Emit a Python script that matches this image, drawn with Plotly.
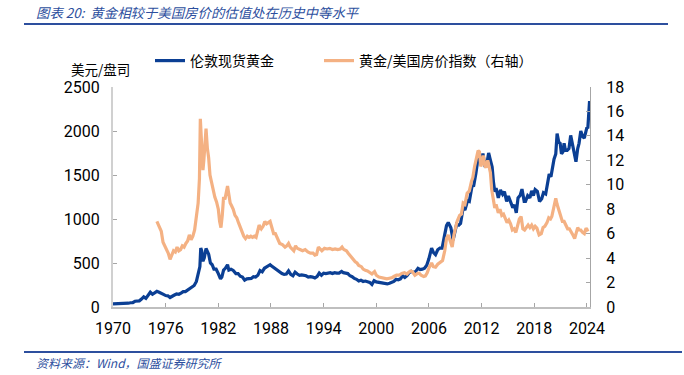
import plotly.graph_objects as go

# ---------------- data ----------------
gold_years = [
    1970.0, 1970.25, 1970.5, 1970.75, 1971.0, 1971.25, 1971.5, 1971.75,
    1972.0, 1972.25, 1972.5, 1972.75, 1973.0, 1973.25, 1973.5, 1973.75,
    1974.0, 1974.25, 1974.5, 1974.75, 1975.0, 1975.25, 1975.5, 1975.75,
    1976.0, 1976.25, 1976.5, 1976.75, 1977.0, 1977.25, 1977.5, 1977.75,
    1978.0, 1978.25, 1978.5, 1978.75, 1979.0, 1979.25, 1979.5, 1979.75, 1979.9,
    1980.0, 1980.1, 1980.25, 1980.4, 1980.6, 1980.75, 1980.9,
    1981.1, 1981.3, 1981.5, 1981.75, 1982.0, 1982.25, 1982.4, 1982.6, 1982.8,
    1983.05, 1983.2, 1983.45, 1983.7, 1984.0, 1984.25, 1984.5, 1984.75,
    1985.0, 1985.25, 1985.5, 1985.75, 1986.0, 1986.25, 1986.5, 1986.75,
    1987.0, 1987.25, 1987.5, 1987.9, 1988.0, 1988.25, 1988.5, 1988.75,
    1989.0, 1989.25, 1989.5, 1989.75, 1990.0, 1990.25, 1990.5, 1990.75,
    1991.0, 1991.25, 1991.5, 1991.75, 1992.0, 1992.25, 1992.5, 1992.75,
    1993.0, 1993.25, 1993.5, 1993.75, 1994.0, 1994.25, 1994.5, 1994.75,
    1995.0, 1995.25, 1995.5, 1995.75, 1996.05, 1996.25, 1996.5, 1996.75,
    1997.0, 1997.25, 1997.5, 1997.75, 1998.0, 1998.25, 1998.5, 1998.75,
    1999.0, 1999.25, 1999.5, 1999.75, 2000.0, 2000.25, 2000.5, 2000.75,
    2001.0, 2001.25, 2001.5, 2001.75, 2002.0, 2002.25, 2002.5, 2002.75,
    2003.0, 2003.25, 2003.5, 2003.75, 2004.0, 2004.25, 2004.5, 2004.75,
    2005.0, 2005.25, 2005.5, 2005.75, 2006.0, 2006.3, 2006.5, 2006.75,
    2007.0, 2007.25, 2007.5, 2007.75, 2008.0, 2008.2, 2008.5, 2008.75,
    2009.0, 2009.15, 2009.4, 2009.6, 2009.9, 2010.1, 2010.4, 2010.6, 2010.9,
    2011.1, 2011.35, 2011.55, 2011.7, 2011.85, 2012.0, 2012.15, 2012.4,
    2012.6, 2012.8, 2013.0, 2013.2, 2013.35, 2013.5, 2013.65, 2013.9,
    2014.15, 2014.4, 2014.6, 2014.85, 2015.05, 2015.3, 2015.55, 2015.75, 2015.95,
    2016.15, 2016.4, 2016.6, 2016.85, 2017.0, 2017.25, 2017.5, 2017.7, 2017.9,
    2018.1, 2018.35, 2018.6, 2018.85, 2019.05, 2019.3, 2019.5, 2019.7, 2019.9,
    2020.05, 2020.25, 2020.45, 2020.6, 2020.8, 2020.95, 2021.1, 2021.25,
    2021.4, 2021.55, 2021.75, 2021.95, 2022.15, 2022.35, 2022.55, 2022.75,
    2022.95, 2023.1, 2023.3, 2023.5, 2023.7, 2023.85, 2024.0, 2024.1, 2024.2, 2024.3,
]
gold_usd_oz = [
    35, 35, 35, 37, 38, 40, 42, 43,
    48, 50, 65, 64, 70, 90, 115, 98,
    140, 168, 145, 165, 178, 168, 160, 143,
    130, 127, 108, 125, 136, 148, 145, 158,
    175, 175, 195, 215, 235, 245, 290, 390, 460,
    670, 640, 520, 560, 665, 640, 600,
    500, 480, 430, 430, 380, 320, 340, 420, 440,
    480, 420, 430, 415, 380, 380, 350, 340,
    305, 320, 320, 325, 345, 340, 360, 415,
    400, 440, 455, 480, 470, 450, 440, 410,
    400, 380, 370, 375, 410, 370, 355, 395,
    375, 360, 365, 360, 355, 340, 345, 340,
    330, 345, 385, 360, 385, 380, 385, 390,
    380, 390, 385, 385, 405, 390, 385, 380,
    355, 345, 325, 315, 295, 305, 290, 295,
    288, 280, 257, 300, 285, 280, 280, 270,
    265, 262, 270, 280, 290, 315, 310, 320,
    355, 335, 355, 390, 405, 390, 405, 440,
    425, 430, 440, 475, 550, 670, 620, 595,
    650, 670, 670, 800, 925, 960, 900, 760,
    900, 940, 930, 950, 1130, 1100, 1210, 1200, 1370,
    1380, 1520, 1700, 1770, 1700, 1660, 1745, 1590,
    1630, 1750, 1670, 1590, 1420, 1310, 1350, 1240,
    1330, 1280, 1310, 1200, 1260, 1200, 1130, 1160, 1070,
    1240, 1270, 1340, 1200, 1200, 1265, 1240, 1320, 1265,
    1335, 1315, 1200, 1230, 1300, 1285, 1410, 1510, 1480,
    1580, 1680, 1740, 1970, 1870, 1860, 1740, 1760,
    1860, 1780, 1780, 1800, 1950, 1840, 1730, 1650,
    1800, 1860, 2000, 1940, 1920, 1990, 2040, 2030, 2160, 2340,
]

ratio_years = [
    1975.0, 1975.15, 1975.3, 1975.5, 1975.7, 1975.9, 1976.1, 1976.3, 1976.5, 1976.7, 1976.9,
    1977.1, 1977.3, 1977.5, 1977.7, 1977.9, 1978.1, 1978.3, 1978.5, 1978.7, 1978.9,
    1979.1, 1979.3, 1979.5, 1979.7, 1979.85, 1979.95, 1980.05, 1980.15, 1980.25, 1980.35,
    1980.45, 1980.6, 1980.75, 1980.9, 1981.05, 1981.2, 1981.4, 1981.6, 1981.8,
    1982.0, 1982.15, 1982.3, 1982.45, 1982.6, 1982.75, 1982.9, 1983.05, 1983.2, 1983.35,
    1983.5, 1983.7, 1983.9, 1984.1, 1984.3, 1984.5, 1984.7, 1984.9, 1985.1, 1985.3,
    1985.5, 1985.7, 1985.9, 1986.1, 1986.3, 1986.5, 1986.65, 1986.9, 1987.1, 1987.3,
    1987.5, 1987.7, 1987.9, 1988.1, 1988.3, 1988.5, 1988.7, 1988.9, 1989.0, 1989.3,
    1989.6, 1989.8, 1990.0, 1990.2, 1990.4, 1990.6, 1990.8, 1991.0, 1991.3, 1991.6,
    1991.9, 1992.2, 1992.5, 1992.8, 1993.0, 1993.2, 1993.4, 1993.6, 1993.8, 1994.1,
    1994.4, 1994.7, 1995.0, 1995.3, 1995.6, 1995.9, 1996.1, 1996.3, 1996.6, 1996.8,
    1997.0, 1997.3, 1997.6, 1997.8, 1998.0, 1998.3, 1998.5, 1998.75, 1999.0, 1999.3,
    1999.5, 1999.8, 2000.0, 2000.3, 2000.6, 2000.9, 2001.2, 2001.5, 2001.8, 2002.0,
    2002.3, 2002.6, 2002.9, 2003.2, 2003.5, 2003.7, 2003.9, 2004.1, 2004.4, 2004.7,
    2004.9, 2005.1, 2005.4, 2005.6, 2005.8, 2006.0, 2006.3, 2006.5, 2006.75, 2007.0,
    2007.3, 2007.55, 2007.8, 2008.0, 2008.2, 2008.45, 2008.65, 2008.85, 2009.0, 2009.2,
    2009.5, 2009.7, 2009.9, 2010.1, 2010.35, 2010.6, 2010.85, 2011.0, 2011.2, 2011.4,
    2011.6, 2011.75, 2011.9, 2012.05, 2012.2, 2012.35, 2012.5, 2012.7, 2012.85, 2013.0,
    2013.15, 2013.35, 2013.5, 2013.65, 2013.9, 2014.1, 2014.3, 2014.5, 2014.7, 2014.9,
    2015.1, 2015.3, 2015.5, 2015.7, 2015.9, 2016.1, 2016.3, 2016.5, 2016.7, 2016.9,
    2017.1, 2017.3, 2017.5, 2017.7, 2017.9, 2018.1, 2018.3, 2018.55, 2018.8, 2019.0,
    2019.2, 2019.45, 2019.65, 2019.85, 2020.0, 2020.15, 2020.3, 2020.45, 2020.6, 2020.8,
    2021.0, 2021.2, 2021.4, 2021.6, 2021.8, 2022.0, 2022.2, 2022.4, 2022.6, 2022.8,
    2022.95, 2023.1, 2023.3, 2023.5, 2023.7, 2023.9, 2024.05, 2024.2,
]
gold_to_house_ratio = [
    7.0, 6.8, 6.6, 6.2, 5.3, 5.0, 4.8, 4.4, 3.9, 4.3, 4.6,
    4.5, 4.9, 4.6, 4.7, 5.0, 4.9, 5.2, 5.4, 5.9, 5.5,
    5.8, 6.3, 7.4, 8.5, 10.5, 15.4, 14.0, 11.5, 11.2, 12.0,
    13.5, 14.6, 13.0, 12.2, 10.8, 10.3, 9.6, 9.0, 8.6,
    8.0, 7.0, 6.5, 7.5, 9.0, 8.8, 9.5, 9.9, 9.2, 8.5,
    8.3, 8.0, 7.5, 7.3, 6.9, 6.5, 6.2, 5.8, 5.6, 5.8,
    5.7, 5.8, 5.7, 5.8, 5.7, 6.2, 6.7, 6.4, 6.6, 7.0,
    6.8, 6.9, 7.0, 6.5, 6.0, 6.0, 5.7, 5.4, 5.2, 5.1,
    4.9, 5.0, 5.2, 4.9, 4.7, 4.6, 5.0, 4.8, 4.7, 4.6,
    4.7, 4.5, 4.4, 4.4, 4.25, 4.3, 4.9, 4.7, 4.6, 4.8,
    4.75, 4.8, 4.7, 4.75, 4.7, 4.75, 4.9, 4.7, 4.6, 4.4,
    4.2, 4.0, 3.7, 3.6, 3.4, 3.3, 3.1, 3.0, 2.95, 2.8,
    2.7, 2.9, 2.6, 2.45, 2.4, 2.3, 2.3, 2.35, 2.4, 2.5,
    2.6, 2.6, 2.75, 2.8, 2.7, 2.85, 2.95, 2.9, 2.6, 2.75,
    2.75, 2.6, 2.5, 2.55, 2.8, 3.2, 3.6, 3.3, 3.25, 3.5,
    3.7, 3.8, 4.6, 5.6, 5.9, 5.4, 4.9, 5.9, 6.5, 7.0,
    7.5, 7.6, 8.5, 8.4, 9.3, 9.5, 10.3, 10.6, 11.5, 12.3,
    12.8, 12.7, 11.5, 11.8, 12.4, 11.6, 11.4, 12.0, 11.5, 11.0,
    9.6, 8.5, 8.1, 8.4, 7.7, 8.0, 7.5, 7.6, 7.3, 6.9,
    7.1, 6.8, 6.3, 6.4, 6.1, 6.8, 7.2, 7.4, 6.4, 6.3,
    6.5, 6.7, 6.5, 6.7, 6.4, 6.6, 6.45, 5.9, 6.0, 6.5,
    6.6, 6.9, 7.3, 7.2, 7.4, 7.9, 8.7, 8.9, 8.4, 7.9,
    7.5, 7.0, 7.0, 6.7, 6.4, 6.4, 6.2, 5.9, 5.6, 6.1,
    6.5, 6.3, 6.3, 6.1, 6.0, 6.45, 6.3, 6.35,
]

x_tick_years = [1970, 1976, 1982, 1988, 1994, 2000, 2006, 2012, 2018, 2024]
left_ticks = [0, 500, 1000, 1500, 2000, 2500]
right_ticks = [0, 2, 4, 6, 8, 10, 12, 14, 16, 18]

name_gold = "伦敦现货黄金"
name_ratio = "黄金/美国房价指数（右轴）"
title_text = "图表 20:  黄金相较于美国房价的估值处在历史中等水平"
source_text = "资料来源：Wind，国盛证券研究所"
left_unit = "美元/盘司"

# ---------------- layout geometry ----------------
W, H = 684, 375
L, R, T, B = 113, 590, 87, 307   # plot-area pixel box


def px(xp):
    return (xp - L) / (R - L)


def py(yp):
    return (B - yp) / (B - T)


BLUE = "#0b3f94"
ORANGE = "#f4b183"
HEAD_BLUE = "#2d4f9e"
TICK_FONT = dict(family="Liberation Sans Narrow, Roboto, Arial", size=16, color="#000000")
CJK = "Noto Sans CJK SC"
LEGEND_FONT = dict(family=CJK, size=14, color="#000000")

fig = go.Figure()
fig.add_trace(go.Scatter(
    x=gold_years, y=gold_usd_oz, name=name_gold, mode="lines",
    line=dict(color=BLUE, width=3.2), yaxis="y", legend="legend",
))
fig.add_trace(go.Scatter(
    x=ratio_years, y=gold_to_house_ratio, name=name_ratio, mode="lines",
    line=dict(color=ORANGE, width=3.2), yaxis="y2", legend="legend2",
))

axis_common = dict(ticks="inside", ticklen=4, tickcolor="#a6a6a6", showgrid=False,
                   zeroline=False, tickfont=TICK_FONT)

fig.update_layout(
    width=W, height=H,
    margin=dict(l=L, r=W - R, t=T, b=H - B, pad=0),
    paper_bgcolor="white", plot_bgcolor="white",
    showlegend=True,
    legend=dict(orientation="h", x=px(150), y=py(45), xanchor="left", yanchor="top",
                font=LEGEND_FONT, itemwidth=30, bgcolor="rgba(0,0,0,0)"),
    legend2=dict(orientation="h", x=px(319), y=py(45), xanchor="left", yanchor="top",
                 font=LEGEND_FONT, itemwidth=30, bgcolor="rgba(0,0,0,0)"),
    xaxis=dict(range=[1970, 2024.35], tickvals=x_tick_years,
               ticktext=[str(v) for v in x_tick_years],
               showline=True, linecolor="#bfbfbf", linewidth=1.5,
               ticklabelstandoff=6, **axis_common),
    yaxis=dict(range=[0, 2500], tickvals=left_ticks, showline=True,
               linecolor="#d0d0d0", linewidth=2, ticklabelstandoff=8, **axis_common),
    yaxis2=dict(range=[0, 18], tickvals=right_ticks, overlaying="y", side="right",
                showline=True, linecolor="#a6a6a6", linewidth=1.2,
                ticklabelstandoff=12, **axis_common),
    font=dict(family=CJK),
)

# header / footer rules
fig.add_shape(type="line", xref="paper", yref="paper", x0=px(24), x1=px(668),
              y0=py(24), y1=py(24), line=dict(color=HEAD_BLUE, width=2))
fig.add_shape(type="line", xref="paper", yref="paper", x0=px(24), x1=px(682),
              y0=py(352), y1=py(352), line=dict(color=HEAD_BLUE, width=2))

fig.add_annotation(xref="paper", yref="paper", x=px(34), y=py(12), xanchor="left",
                   yanchor="middle", showarrow=False,
                   text="<i>" + title_text + "</i>",
                   font=dict(family=CJK, size=13.4, color=HEAD_BLUE))
fig.add_annotation(xref="paper", yref="paper", x=px(34), y=py(362), xanchor="left",
                   yanchor="middle", showarrow=False,
                   text="<i>" + source_text + "</i>",
                   font=dict(family=CJK, size=12, color=HEAD_BLUE))
fig.add_annotation(xref="paper", yref="paper", x=px(69), y=py(69), xanchor="left",
                   yanchor="middle", showarrow=False, text=left_unit,
                   font=dict(family=CJK, size=13.5, color="#000000"))

# remove the browser's default page margin so the figure sits at the window's corner
fig.write_html("out.html", config={"displayModeBar": False},
               post_script="document.body.style.margin='0';")
